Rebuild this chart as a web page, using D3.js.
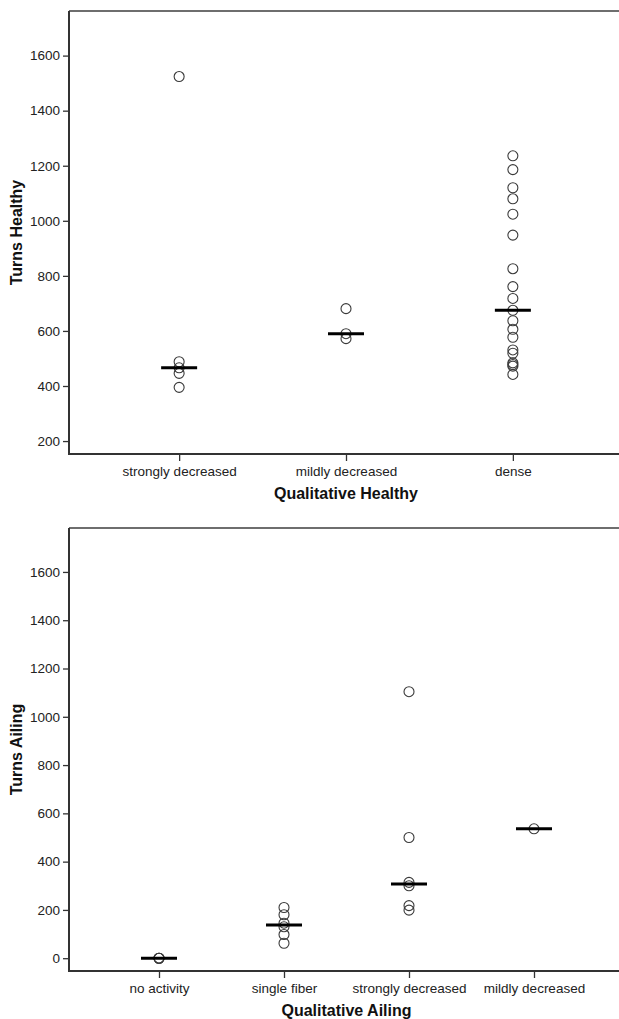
<!DOCTYPE html>
<html>
<head>
<meta charset="utf-8">
<script src="https://cdn.jsdelivr.net/npm/d3@7"></script>
<style>
  body { margin: 0; background: #fff; overflow: hidden; }
  svg { display: block; }
  .tick text { font-family: "Liberation Sans", Arial, sans-serif; font-size: 13.5px; fill: #222; }
  .title { font-family: "Liberation Sans", Arial, sans-serif; font-size: 16px; font-weight: bold; fill: #111; }
</style>
</head>
<body>
<div id="chart"></div>
<script>
// top panel: Turns Healthy by Qualitative Healthy
var healthyCats = ["strongly decreased", "mildly decreased", "dense"];
var healthyStrongly = [395, 446, 466, 488, 1524];
var healthyMildly = [572, 590, 681];
var healthyDense = [442, 472, 478, 484, 519, 531, 577, 606, 637, 675,
                    718, 761, 826, 948, 1024, 1080, 1120, 1186, 1236];
var healthyTicks = [200, 400, 600, 800, 1000, 1200, 1400, 1600];

// bottom panel: Turns Ailing by Qualitative Ailing
var ailingCats = ["no activity", "single fiber", "strongly decreased", "mildly decreased"];
var ailingNone = [0, 0, 0];
var ailingSingle = [62, 98, 130, 145, 180, 210];
var ailingStrongly = [199, 218, 300, 314, 500, 1104];
var ailingMildly = [536];
var ailingTicks = [0, 200, 400, 600, 800, 1000, 1200, 1400, 1600];

var width = 619;
var height = 1019;

var svg = d3.select("#chart").append("svg")
    .attr("width", width)
    .attr("height", height);

// the plot frame runs past the right edge of the picture
svg.append("clipPath").attr("id", "page")
    .append("rect").attr("x", 0).attr("y", 0)
    .attr("width", width).attr("height", height);

var root = svg.append("g").attr("clip-path", "url(#page)");

function drawPanel(p) {
    var x = d3.scalePoint()
        .domain(p.cats)
        .range([p.left, p.right])
        .padding(p.pad);
    var y = d3.scaleLinear()
        .domain(p.yDomain)
        .range([p.bottom, p.top]);

    var g = root.append("g");

    // top frame line (gray)
    g.append("line")
        .attr("x1", p.left).attr("x2", width)
        .attr("y1", p.top).attr("y2", p.top)
        .attr("stroke", "#6e6e6e")
        .attr("stroke-width", 2);

    var yAxis = g.append("g")
        .attr("transform", "translate(" + p.left + ",0)")
        .call(d3.axisLeft(y).tickValues(p.ticks).tickSize(6).tickPadding(3).tickFormat(d3.format("d")));
    yAxis.select(".domain").remove();
    yAxis.selectAll(".tick line").attr("stroke", "#333").attr("stroke-width", 1.3);

    var xAxis = g.append("g")
        .attr("transform", "translate(0," + p.bottom + ")")
        .call(d3.axisBottom(x).tickSize(7).tickPadding(5));
    xAxis.select(".domain").remove();
    xAxis.selectAll(".tick line").attr("stroke", "#333").attr("stroke-width", 1.3);

    // axis lines
    g.append("line")
        .attr("x1", p.left).attr("x2", p.left)
        .attr("y1", p.top).attr("y2", p.bottom + 1)
        .attr("stroke", "#333").attr("stroke-width", 2);
    g.append("line")
        .attr("x1", p.left).attr("x2", width)
        .attr("y1", p.bottom).attr("y2", p.bottom)
        .attr("stroke", "#333").attr("stroke-width", 2);

    // points
    p.groups.forEach(function(vals, i) {
        var cat = p.cats[i];
        g.selectAll(null)
            .data(vals)
            .enter().append("circle")
            .attr("cx", x(cat))
            .attr("cy", function(d) { return y(d); })
            .attr("r", 5)
            .attr("fill", "none")
            .attr("stroke", "#3a3a3a")
            .attr("stroke-width", 1.1);

        var med = d3.median(vals);
        g.append("line")
            .attr("x1", x(cat) - 18).attr("x2", x(cat) + 18)
            .attr("y1", y(med)).attr("y2", y(med))
            .attr("stroke", "#000")
            .attr("stroke-width", 3);
    });

    // titles
    g.append("text")
        .attr("class", "title")
        .attr("x", (p.left + p.right) / 2)
        .attr("y", p.bottom + p.xTitleOffset)
        .attr("text-anchor", "middle")
        .text(p.xTitle);
    g.append("text")
        .attr("class", "title")
        .attr("transform", "translate(22," + (p.top + p.bottom) / 2 + ") rotate(-90)")
        .attr("text-anchor", "middle")
        .text(p.yTitle);
}

drawPanel({
    cats: healthyCats,
    groups: [healthyStrongly, healthyMildly, healthyDense],
    ticks: healthyTicks,
    yDomain: [153, 1762],
    left: 69, right: 623, top: 11, bottom: 454,
    pad: 0.66,
    xTitle: "Qualitative Healthy",
    yTitle: "Turns Healthy",
    xTitleOffset: 45
});

drawPanel({
    cats: ailingCats,
    groups: [ailingNone, ailingSingle, ailingStrongly, ailingMildly],
    ticks: ailingTicks,
    yDomain: [-53, 1782],
    left: 69, right: 624, top: 528, bottom: 971,
    pad: 0.72,
    xTitle: "Qualitative Ailing",
    yTitle: "Turns Ailing",
    xTitleOffset: 45
});
</script>
</body>
</html>
